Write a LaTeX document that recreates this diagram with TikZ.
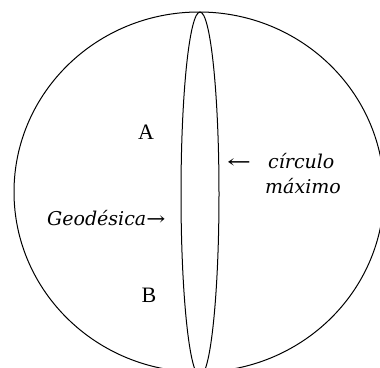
\documentclass[tikz,border=0pt]{standalone}
\usepackage{fontspec}
\setmainfont{Liberation Serif}
\newfontfamily\labelfont{DejaVu Serif}
\tikzset{
  outline/.style={draw=black, line width=1pt},
  letter/.style={font=\fontsize{22}{24}\selectfont, inner sep=0pt},
  lbl/.style={font=\labelfont\itshape\fontsize{19}{22}\selectfont, inner sep=0pt}
}
\begin{document}
\begin{tikzpicture}[x=1pt,y=-1pt]
\useasboundingbox (0,0) rectangle (380,367);
\fill[white] (0,0) rectangle (380,367);
\begin{scope}
\clip (0,0) rectangle (380,367);
\draw[outline] (199,192) ellipse [x radius=185, y radius=180];
\draw[outline] (200,194) ellipse [x radius=19, y radius=182];
\end{scope}
\node[letter] (A) at (146,132) {A};
\node[letter] (B) at (149,295) {B};
\node[lbl, anchor=west] (geo) at (47,218) {Geodésica\scalebox{1.2}[1]{→}};
\node[lbl, anchor=west] (arr) at (227,163) {\scalebox{1.5}[1]{←}};
\node[lbl, anchor=west] (circ) at (268,161) {círculo};
\node[lbl, anchor=west] (max) at (265,186) {máximo};
\end{tikzpicture}
\end{document}
